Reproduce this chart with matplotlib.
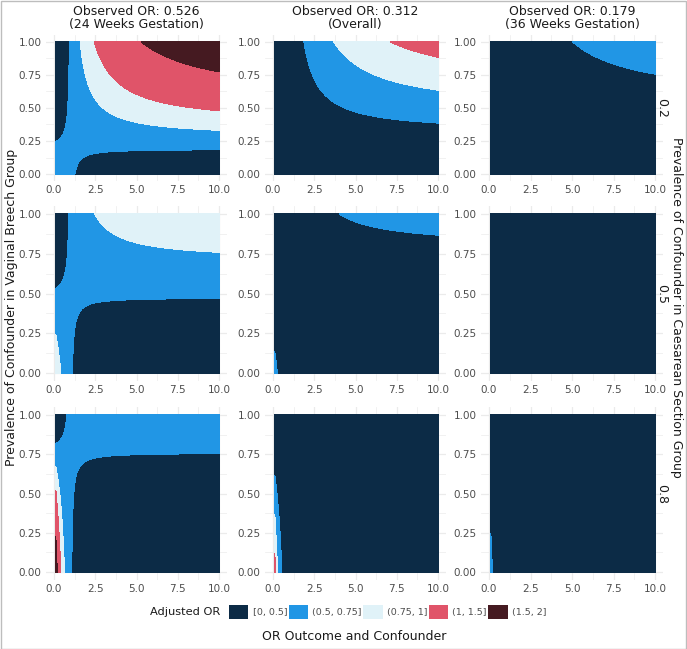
import numpy as np
import matplotlib
matplotlib.use("Agg")
import matplotlib.pyplot as plt
from matplotlib.patches import Patch, Rectangle

# facet values
observed_or = [0.526, 0.312, 0.179]
col_titles = ["Observed OR: 0.526\n(24 Weeks Gestation)",
              "Observed OR: 0.312\n(Overall)",
              "Observed OR: 0.179\n(36 Weeks Gestation)"]
prev_caesarean = [0.2, 0.5, 0.8]
row_labels = ["0.2", "0.5", "0.8"]

# adjusted OR bins
breaks = [0, 0.5, 0.75, 1, 1.5, 2]
bin_labels = ["[0, 0.5]", "(0.5, 0.75]", "(0.75, 1]", "(1, 1.5]", "(1.5, 2]"]
bin_colors = ["#0C2B46", "#2196E5", "#E0F2F8", "#E05469", "#451A21"]

# sensitivity grid: OR outcome-confounder (x) vs prevalence in vaginal breech group (y)
or_outcome = np.linspace(0.1, 10, 991)
prev_breech = np.linspace(0, 1, 401)

xticks = [0, 2.5, 5, 7.5, 10]
yticks = [0, 0.25, 0.5, 0.75, 1]

W, H = 687, 649
fig = plt.figure(figsize=(W / 100, H / 100), dpi=100)

# pixel positions of data range (x 0..10, y 0..1) per panel
col_px = [(54, 219), (273, 438), (489, 655)]
row_px = [(42, 174), (214, 373), (415, 572)]

grid_col = "#EBEBEB"
text_col = "#4D4D4D"

X, Y = np.meshgrid(or_outcome, prev_breech)

for r, p0 in enumerate(prev_caesarean):
    for c, orv in enumerate(observed_or):
        x0, x1 = col_px[c]
        y0, y1 = row_px[r]
        ux = (x1 - x0) / 10.0
        uy = (y1 - y0) / 1.0
        left = x0 - 0.5 * ux
        width = 11 * ux
        top = y0 - 0.05 * uy
        height = 1.1 * uy
        ax = fig.add_axes([left / W, 1 - (top + height) / H, width / W, height / H])
        ax.set_xlim(-0.5, 10.5)
        ax.set_ylim(-0.05, 1.05)

        adj = orv * (Y * (X - 1) + 1) / (p0 * (X - 1) + 1)
        cs = ax.contourf(X, Y, adj, levels=breaks, colors=bin_colors, zorder=2)
        cs.set_edgecolor("face")
        cs.set_linewidth(0.3)

        ax.set_xticks(xticks)
        ax.set_xticklabels(["0.0", "2.5", "5.0", "7.5", "10.0"])
        ax.set_yticks(yticks)
        ax.set_yticklabels(["0.00", "0.25", "0.50", "0.75", "1.00"])
        ax.set_xticks([1.25, 3.75, 6.25, 8.75], minor=True)
        ax.set_yticks([0.125, 0.375, 0.625, 0.875], minor=True)
        ax.grid(True, which="major", color=grid_col, linewidth=0.9, zorder=0)
        ax.grid(True, which="minor", color=grid_col, linewidth=0.5, zorder=0)
        ax.set_axisbelow(True)
        ax.tick_params(which="both", length=0, labelsize=7.5, labelcolor=text_col, pad=3)
        for s in ax.spines.values():
            s.set_visible(False)

        if r == 0:
            ax.set_title(col_titles[c], fontsize=9, color="#1A1A1A", pad=5, linespacing=1.0)
        if c == 2:
            fig.text((x1 + 7) / W, 1 - ((y0 + y1) / 2) / H, row_labels[r], rotation=-90,
                     fontsize=9, color="#1A1A1A", ha="center", va="center")

fig.text(12 / W, 1 - 307 / H, "Prevalence of Confounder in Vaginal Breech Group",
         rotation=90, fontsize=9, color="#1A1A1A", ha="center", va="center")
fig.text(677 / W, 1 - 307 / H, "Prevalence of Confounder in Caesarean Section Group",
         rotation=-90, fontsize=9, color="#1A1A1A", ha="center", va="center")
fig.text(354 / W, 1 - 637 / H, "OR Outcome and Confounder",
         fontsize=9, color="#1A1A1A", ha="center", va="center")

# legend
fig.text(220 / W, 1 - 612 / H, "Adjusted OR", fontsize=8.2, color="#1A1A1A",
         ha="right", va="center")
handles = [Patch(facecolor=col, edgecolor="none", label=lab)
           for col, lab in zip(bin_colors, bin_labels)]
fig.legend(handles=handles, loc="center left", bbox_to_anchor=(229 / W, 1 - 612 / H),
           ncol=5, frameon=False, fontsize=6.8, handlelength=2.05, handleheight=2.05,
           handletextpad=0.45, columnspacing=0.15, borderpad=0, borderaxespad=0,
           labelcolor=text_col)

fig.patches.append(Rectangle((0.5 / W, 0.5 / H), 1 - 1.5 / W, 1 - 1.5 / H,
                             transform=fig.transFigure, fill=False,
                             edgecolor="#BDBDBD", linewidth=1.0))

fig.savefig("out.png", dpi=100, facecolor="white")
